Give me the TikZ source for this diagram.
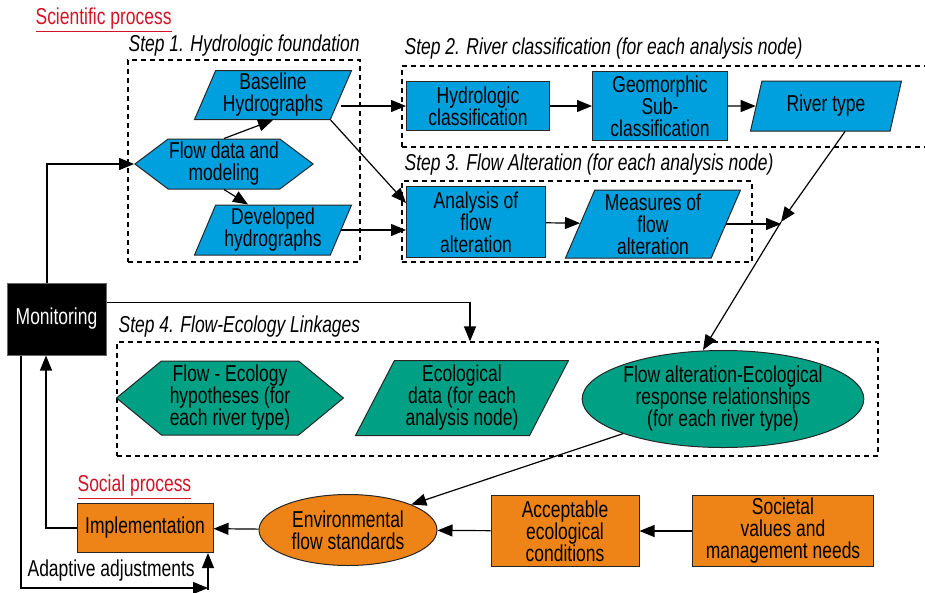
\documentclass[tikz,border=0pt]{standalone}
\usepackage{fontspec}
\setmainfont{Liberation Sans}[FakeStretch=0.76]
\usetikzlibrary{shapes.geometric,shapes.symbols,arrows.meta}

\definecolor{sciblue}{RGB}{0,160,222}
\definecolor{ecoteal}{RGB}{0,160,133}
\definecolor{socorange}{RGB}{238,132,24}
\definecolor{procred}{RGB}{210,20,40}
\newcommand\figfont{\fontsize{23}{22}\selectfont}

\tikzset{
  rectbox/.style={draw=black!85,line width=1pt,align=center,font=\figfont,inner sep=1pt},
  parbox/.style 2 args={rectbox,trapezium,trapezium left angle=#1,trapezium right angle=#2,trapezium stretches body},
  hexbox/.style={rectbox,signal,signal to=east and west,signal pointer angle=#1},
  ovalbox/.style={rectbox,ellipse,inner sep=0pt},
  frame/.style={draw,dash pattern=on 5pt off 4pt,line width=1.2pt,inner sep=0pt},
  steplabel/.style={anchor=west,font=\figfont\itshape,inner sep=0pt},
  proclabel/.style={anchor=west,font=\figfont,text=procred,inner sep=0pt},
}

\begin{document}
\begin{tikzpicture}[x=1pt,y=-1pt,>={Triangle[length=15pt,width=12pt]},line width=1.2pt]
\useasboundingbox (0,0) rectangle (925,592);

% frames of the four steps
\node[frame,minimum width=232,minimum height=202] (step1) at (244,161) {};
\node[frame,minimum width=538,minimum height=81] (step2) at (671,106.5) {};
\node[frame,minimum width=350,minimum height=81] (step3) at (577,221.5) {};
\node[frame,minimum width=761,minimum height=114] (step4) at (497.5,399) {};
\node[steplabel] (lab1) at (128,46) {Step 1. Hydrologic foundation};
\node[steplabel] (lab2) at (404,49) {Step 2. River classification (for each analysis node)};
\node[steplabel] (lab3) at (404,165) {Step 3. Flow Alteration (for each analysis node)};
\node[steplabel] (lab4) at (118,327) {Step 4. Flow-Ecology Linkages};
\node[proclabel] (sci) at (35,20) {\underline{Scientific process}};
\node[proclabel] (soc) at (77,487) {\underline{Social process}};

% step 1
\node[parbox={65}{115},fill=sciblue,minimum width=157,minimum height=49] (baseline) at (273,95) {Baseline\\Hydrographs};
\node[hexbox=74,fill=sciblue,minimum width=168,minimum height=50] (flowdata) at (224,164) {Flow data and\\modeling};
\node[parbox={65}{115},fill=sciblue,minimum width=157,minimum height=50] (developed) at (273,230) {Developed\\hydrographs};

% step 2
\node[rectbox,fill=sciblue,minimum width=143,minimum height=49] (hydclass) at (478,106) {Hydrologic\\classification};
\node[rectbox,fill=sciblue,minimum width=135,minimum height=69] (geomorph) at (660,106) {Geomorphic\\Sub-\\classification};
\node[parbox={64}{116},fill=sciblue,minimum width=151,minimum height=50] (rivertype) at (826,106) {River type};

% step 3
\node[rectbox,fill=sciblue,minimum width=139,minimum height=71] (analysis) at (476,222) {Analysis of\\flow\\alteration};
\node[parbox={65}{115},fill=sciblue,minimum width=175,minimum height=68] (measures) at (653,224) {Measures of\\flow\\alteration};
\coordinate (join) at (781,222);

% step 4
\node[hexbox=79,fill=ecoteal,minimum width=227,minimum height=74] (flowecol) at (230,398) {Flow - Ecology\\hypotheses (for\\each river type)};
\node[parbox={60}{120},fill=ecoteal,minimum width=213,minimum height=75] (ecodata) at (462,398) {Ecological\\data (for each\\analysis node)};
\node[ovalbox,fill=ecoteal,minimum width=270,minimum height=97] (flowalt) at (723,399) {Flow alteration-Ecological\\response relationships\\(for each river type)};

% social process
\node[rectbox,fill=black,text=white,draw=black!60,minimum width=99,minimum height=72] (monitor) at (56.5,319) {Monitoring};
\node[rectbox,fill=socorange,minimum width=136,minimum height=49] (impl) at (145,528) {Implementation};
\node[ovalbox,fill=socorange,minimum width=178,minimum height=71] (envflow) at (348,530) {Environmental\\flow standards};
\node[rectbox,fill=socorange,minimum width=148,minimum height=71] (accept) at (565,531) {Acceptable\\ecological\\conditions};
\node[rectbox,fill=socorange,minimum width=181,minimum height=71] (societal) at (783,531) {Societal\\values and\\management needs};
\coordinate (adjust) at (208,588);
\node[anchor=west,font=\figfont,inner sep=0pt] (adjlab) at (27,571) {Adaptive adjustments};

\draw[->] (flowdata.north) -- (baseline.south);
\draw[->] (flowdata.south) -- ([xshift=-25pt]developed.north);
\draw[->] (hydclass.west -| baseline.east) -- (hydclass.west);
\draw[->] (baseline.bottom right corner) -- ([yshift=-17pt]analysis.north west);
\draw[->] (developed.east) -- (developed.east -| analysis.west);
\draw[->] (hydclass) -- (geomorph);
\draw[->] (geomorph) -- (rivertype);
\draw[->] (analysis) -- (measures);
\draw[->] ([xshift=19pt]rivertype.south) -- (join);
\draw[->] (measures.east) -- (measures.east -| join);
\draw[->] (join) -- ([xshift=-20pt]flowalt.north);
\draw[->] (flowalt.south west) -- (envflow.north east);
\draw[->] (societal) -- (accept);
\draw[->] (accept) -- (envflow);
\draw[->] (envflow) -- (impl);
\draw[->] (impl.west) -| ([xshift=-10.5pt]monitor.south);
\draw[->] ([xshift=-9.5pt]monitor.north) |- (flowdata.west);
\draw[->] ([yshift=-20pt]monitor.north east) -| ([xshift=-27.5pt]step4.north);
\draw[->] ([xshift=-35.5pt]monitor.south) |- (adjust);
\draw[->] ([yshift=-2pt]adjust) -- (adjust |- impl.south);
\end{tikzpicture}
\end{document}
